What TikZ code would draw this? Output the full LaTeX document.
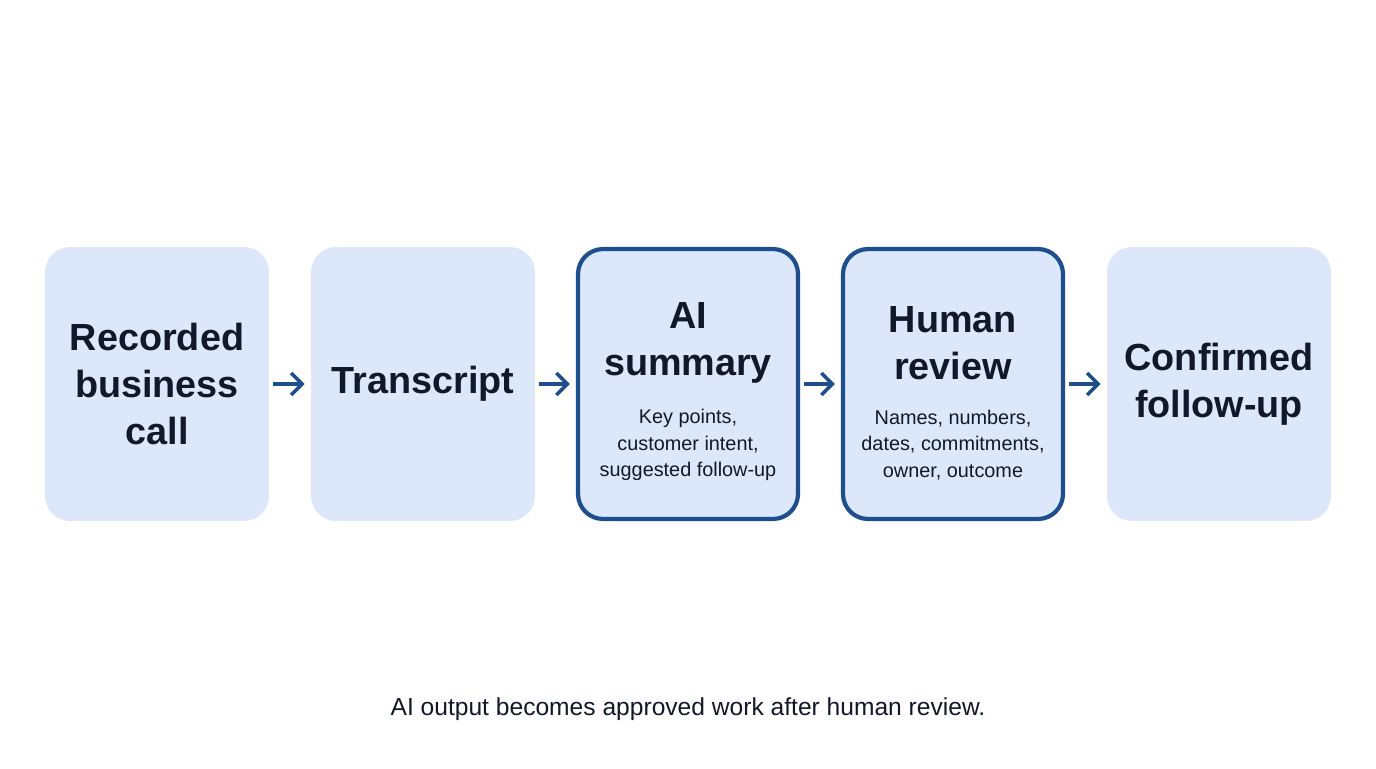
\documentclass[tikz,border=0pt]{standalone}
\usepackage{fontspec}
\setmainfont{Liberation Sans}
\usetikzlibrary{positioning, arrows.meta}
\definecolor{boxfill}{HTML}{DCE8FA}
\definecolor{boxline}{HTML}{1F4E8C}
\definecolor{inktext}{HTML}{111827}
\tikzset{
  stage/.style={minimum width=4.48cm, minimum height=5.48cm, rounded corners=0.5cm, fill=boxfill, draw=none},
  check/.style={stage, minimum width=4.4cm, minimum height=5.4cm, draw=boxline, line width=2.4pt},
  title/.style={text=inktext, font=\fontsize{21.5}{26.5}\selectfont\bfseries, align=center},
  detail/.style={text=inktext, font=\fontsize{11.3}{15}\selectfont, align=center},
  flow/.style={-{Straight Barb[length=2.2mm, width=4.4mm]}, draw=boxline, line width=2pt, shorten <=0.08cm, shorten >=0.12cm}
}
\begin{document}
\begin{tikzpicture}[x=0.02cm, y=-0.02cm]
\useasboundingbox (0,0) rectangle (1376,768);
% the five stages
\node[stage] (call) at (157,384) {};
\node[stage] (transcript) at (423,384) {};
\node[check] (summary) at (688,384) {};
\node[check] (review) at (953,384) {};
\node[stage] (followup) at (1219,384) {};
% texts
\node[title] at (call) {Recorded\\business\\call};
\node[title] at (transcript) {Transcript};
\node[title] at (688,343) {AI\\summary};
\node[detail] at (688,445) {Key points,\\customer intent,\\suggested follow-up};
\node[title] at (953,343) {Human\\review};
\node[detail] at (953,445) {Names, numbers,\\dates, commitments,\\owner, outcome};
\node[title] at (followup) {Confirmed\\follow-up};
% arrows
\draw[flow] (call) -- (transcript);
\draw[flow] (transcript) -- (summary);
\draw[flow] (summary) -- (review);
\draw[flow] (review) -- (followup);
\node[text=inktext, font=\fontsize{14}{17}\selectfont] (caption) at (688,709) {AI output becomes approved work after human review.};
\end{tikzpicture}
\end{document}
